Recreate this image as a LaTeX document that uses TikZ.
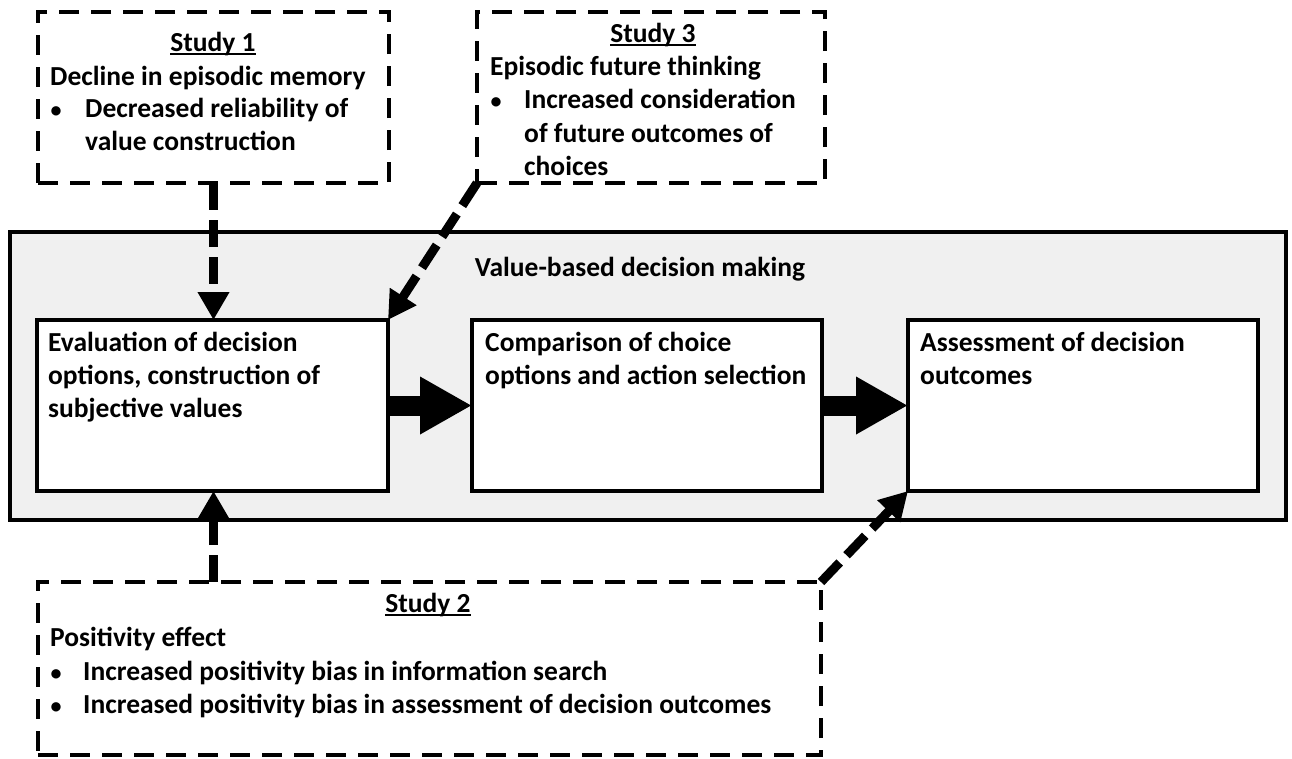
\documentclass[tikz,border=0pt]{standalone}
\usepackage{fontspec}
\setmainfont{Carlito}
\usetikzlibrary{arrows.meta}
\definecolor{panelgray}{HTML}{F0F0F0}
\newcommand{\myul}[1]{\setbox0\hbox{#1}\rlap{\rule[-4pt]{\wd0}{1.8pt}}\box0}
\begin{document}
\begin{tikzpicture}[x=1pt,y=-1pt,
  box/.style={draw, line width=3.5pt, fill=white, inner sep=0pt, outer sep=0pt},
  studybox/.style={draw, line width=3.5pt, dash pattern=on 20pt off 12pt, inner sep=0pt, outer sep=0pt},
  panel/.style={draw, line width=4pt, fill=panelgray, inner sep=0pt, outer sep=0pt},
  txt/.style={anchor=base west, inner sep=0pt, font=\fontsize{27.5}{33}\selectfont\bfseries},
  ctxt/.style={anchor=base, inner sep=0pt, font=\fontsize{27.5}{33}\selectfont\bfseries},
  bul/.style={anchor=base, inner sep=0pt, font=\fontsize{22}{33}\selectfont\bfseries},
  dasharrow/.style={line width=9pt, dash pattern=on 27pt off 10pt, -{Triangle[length=28pt,width=30pt]}},
  blockarrow/.style={line width=20pt, -{Triangle[length=52pt,width=54pt]}}]
\useasboundingbox (0,0) rectangle (1292,758);
\fill[white] (0,0) rectangle (1292,758);

% panel and boxes
\node[panel, minimum width=1276pt, minimum height=288pt] (panel) at (648,376) {};
\node[box, minimum width=351pt, minimum height=171pt] (b1) at (212.5,405.5) {};
\node[box, minimum width=350pt, minimum height=171pt] (b2) at (647,405.5) {};
\node[box, minimum width=350pt, minimum height=171pt] (b3) at (1083,405.5) {};

% study boxes
\node[studybox, minimum width=351pt, minimum height=171pt] (s1) at (213.5,97.5) {};
\node[studybox, minimum width=348pt, minimum height=171pt] (s3) at (651,97.5) {};
\node[studybox, minimum width=783pt, minimum height=173pt] (s2) at (429.5,668.5) {};

% texts
\node[ctxt] (t-s1) at (213,51) {\myul{Study 1}};
\node[txt] (t-s1a) at (50,85) {Decline in episodic memory};
\node[bul] (t-s1b) at (56,117) {•};
\node[txt] (t-s1c) at (85,117) {Decreased reliability of};
\node[txt] (t-s1d) at (85,150) {value construction};

\node[ctxt] (t-s3) at (653,42) {\myul{Study 3}};
\node[txt] (t-s3a) at (490,75) {Episodic future thinking};
\node[bul] (t-s3b) at (496,108) {•};
\node[txt] (t-s3c) at (524,108) {Increased consideration};
\node[txt] (t-s3d) at (524,142) {of future outcomes of};
\node[txt] (t-s3e) at (524,175) {choices};

\node[ctxt] (t-v) at (640,276) {Value-based decision making};

\node[txt] (t-b1a) at (48,351) {Evaluation of decision};
\node[txt] (t-b1b) at (48,384) {options, construction of};
\node[txt] (t-b1c) at (48,417) {subjective values};

\node[txt] (t-b2a) at (485,351) {Comparison of choice};
\node[txt] (t-b2b) at (485,384) {options and action selection};

\node[txt] (t-b3a) at (920,351) {Assessment of decision};
\node[txt] (t-b3b) at (920,384) {outcomes};

\node[ctxt] (t-s2) at (428,612) {\myul{Study 2}};
\node[txt] (t-s2a) at (50,646) {Positivity effect};
\node[bul] (t-s2b) at (56,680) {•};
\node[txt] (t-s2c) at (83,680) {Increased positivity bias in information search};
\node[bul] (t-s2d) at (56,713) {•};
\node[txt] (t-s2e) at (83,713) {Increased positivity bias in assessment of decision outcomes};

% connectors
\draw[blockarrow] (b1.east) -- (b2.west);
\draw[blockarrow] (b2.east) -- (b3.west);
\draw[dasharrow] (s1.south) -- (s1.south |- b1.north);
\draw[dasharrow] (s2.north -| s1.south) -- (b1.south -| s1.south);
\draw[dasharrow] (s3.south west) -- (b1.north east);
\draw[dasharrow] (s2.north east) -- (b3.south west);
\end{tikzpicture}
\end{document}
